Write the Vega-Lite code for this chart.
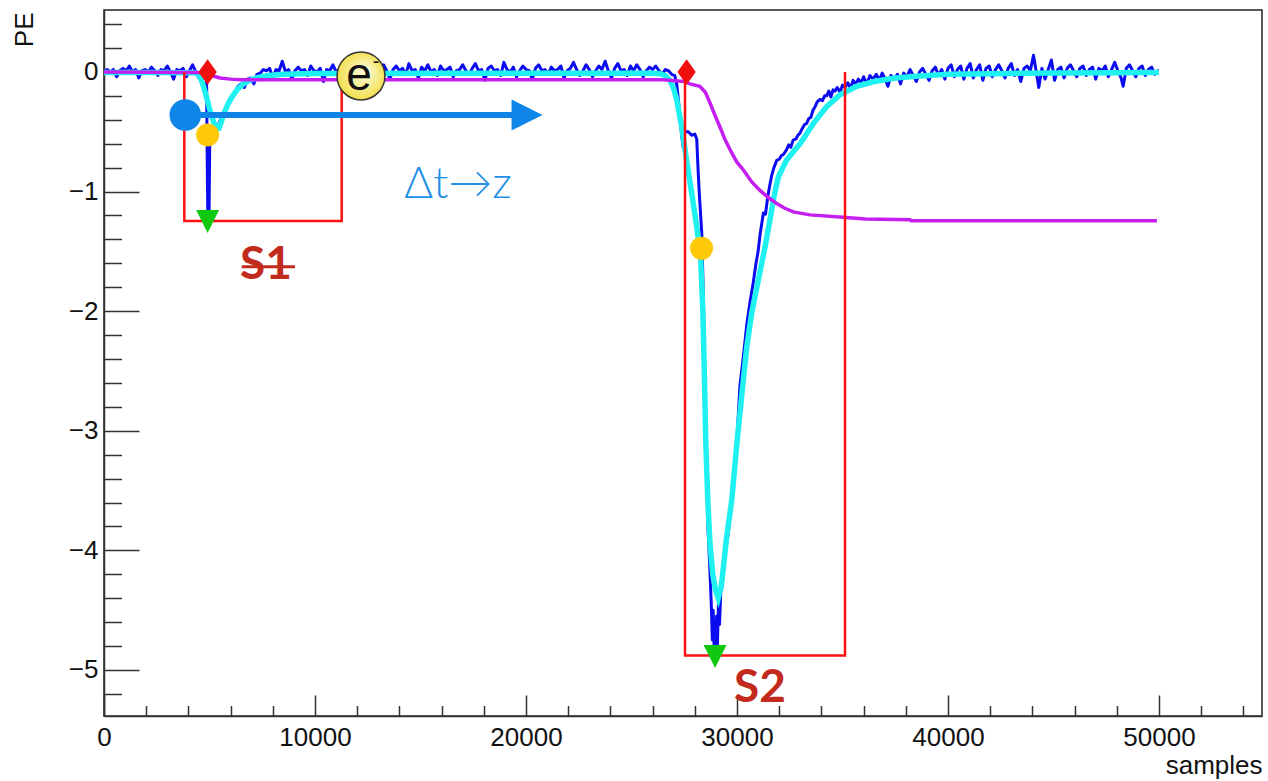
{
"$schema":"https://vega.github.io/schema/vega-lite/v6.json",
"width":1158,"height":706,
"autosize":{"type":"none"},
"padding":{"left":104,"top":10,"right":6,"bottom":65},
"background":"#ffffff",
"config":{"view":{"stroke":"#222222","strokeWidth":1.5},"font":"Liberation Sans"},
"datasets":{
"blue":[
{"x":0,"y":0.01},{"x":150,"y":0.02},{"x":300,"y":0.0},{"x":450,"y":0.02},{"x":600,"y":-0.04},{"x":750,"y":0.01},{"x":900,"y":0.03},{"x":1050,"y":0.01},{"x":1200,"y":0.05},{"x":1350,"y":0.0},{"x":1500,"y":0.02},{"x":1650,"y":-0.05},{"x":1800,"y":0.01},{"x":1950,"y":0.02},{"x":2100,"y":0.0},{"x":2250,"y":0.04},{"x":2400,"y":0.01},{"x":2550,"y":-0.03},{"x":2700,"y":0.02},{"x":2850,"y":0.01},{"x":3000,"y":0.05},{"x":3150,"y":0.0},{"x":3300,"y":-0.06},{"x":3450,"y":0.02},{"x":3600,"y":0.01},{"x":3750,"y":0.03},{"x":3900,"y":-0.04},{"x":4050,"y":0.01},{"x":4200,"y":0.06},{"x":4350,"y":0.0},{"x":4500,"y":-0.05},{"x":4650,"y":0.02},
{"x":4750,"y":0.01},{"x":4860,"y":-0.05},{"x":4890,"y":-0.7},{"x":4920,"y":-1.2},{"x":4950,"y":-0.9},{"x":4980,"y":-1.15},{"x":5010,"y":-0.62},{"x":5150,"y":-0.52},{"x":5300,"y":-0.47},{"x":5450,"y":-0.43},{"x":5600,"y":-0.36},{"x":5750,"y":-0.31},{"x":5900,"y":-0.25},{"x":6050,"y":-0.2},{"x":6200,"y":-0.17},{"x":6350,"y":-0.12},{"x":6500,"y":-0.1},{"x":6650,"y":-0.13},{"x":6800,"y":-0.06},{"x":6950,"y":-0.05},{"x":7100,"y":-0.1},{"x":7250,"y":-0.02},{"x":7400,"y":-0.01},{"x":7550,"y":0.02},
{"x":7700,"y":0.01},{"x":7850,"y":0.03},{"x":8000,"y":-0.05},{"x":8150,"y":0.02},{"x":8300,"y":0.01},{"x":8450,"y":0.09},{"x":8600,"y":0.0},{"x":8750,"y":0.02},{"x":8900,"y":-0.06},{"x":9050,"y":0.01},{"x":9200,"y":0.04},{"x":9350,"y":0.01},{"x":9500,"y":0.02},{"x":9650,"y":-0.03},{"x":9800,"y":0.05},{"x":9950,"y":0.01},{"x":10100,"y":0.0},{"x":10250,"y":0.03},{"x":10400,"y":-0.08},{"x":10550,"y":0.02},{"x":10700,"y":0.01},{"x":10850,"y":0.06},{"x":11000,"y":0.0},{"x":11150,"y":0.02},{"x":11300,"y":-0.04},{"x":11450,"y":0.01},{"x":11600,"y":0.05},{"x":11750,"y":0.02},{"x":11900,"y":0.0},{"x":12050,"y":0.04},{"x":12200,"y":-0.05},{"x":12350,"y":0.01},{"x":12500,"y":0.07},{"x":12650,"y":0.02},{"x":12800,"y":0.0},{"x":12950,"y":-0.03},{"x":13100,"y":0.03},{"x":13250,"y":0.06},{"x":13400,"y":0.01},{"x":13550,"y":-0.06},{"x":13700,"y":0.02},{"x":13850,"y":0.05},{"x":14000,"y":0.01},{"x":14150,"y":0.03},{"x":14300,"y":-0.02},{"x":14450,"y":0.07},{"x":14600,"y":0.01},{"x":14750,"y":0.02},{"x":14900,"y":-0.05},{"x":15050,"y":0.04},{"x":15200,"y":0.01},{"x":15350,"y":0.06},{"x":15500,"y":0.0},{"x":15650,"y":0.02},{"x":15800,"y":-0.03},{"x":15950,"y":0.05},{"x":16100,"y":0.01},{"x":16250,"y":0.02},{"x":16400,"y":0.04},{"x":16550,"y":-0.04},{"x":16700,"y":0.01},{"x":16850,"y":0.02},{"x":17000,"y":0.06},{"x":17150,"y":0.01},{"x":17300,"y":-0.02},{"x":17450,"y":0.03},{"x":17600,"y":0.07},{"x":17750,"y":0.01},{"x":17900,"y":0.02},{"x":18050,"y":-0.07},{"x":18200,"y":0.03},{"x":18350,"y":0.05},{"x":18500,"y":0.01},{"x":18650,"y":0.02},{"x":18800,"y":-0.03},{"x":18950,"y":0.08},{"x":19100,"y":0.02},{"x":19250,"y":0.0},{"x":19400,"y":0.04},{"x":19550,"y":-0.04},{"x":19700,"y":0.01},{"x":19850,"y":0.05},{"x":20000,"y":0.02},{"x":20150,"y":0.01},{"x":20300,"y":-0.06},{"x":20450,"y":0.03},{"x":20600,"y":0.06},{"x":20750,"y":0.01},{"x":20900,"y":0.02},{"x":21050,"y":-0.02},{"x":21200,"y":0.04},{"x":21350,"y":0.01},{"x":21500,"y":0.02},{"x":21650,"y":0.05},{"x":21800,"y":-0.05},{"x":21950,"y":0.01},{"x":22100,"y":0.03},{"x":22250,"y":0.08},{"x":22400,"y":0.02},{"x":22550,"y":-0.03},{"x":22700,"y":0.01},{"x":22850,"y":0.06},{"x":23000,"y":0.02},{"x":23150,"y":-0.04},{"x":23300,"y":0.01},{"x":23450,"y":0.05},{"x":23600,"y":0.02},{"x":23750,"y":0.09},{"x":23900,"y":0.01},{"x":24050,"y":-0.05},{"x":24200,"y":0.03},{"x":24350,"y":0.07},{"x":24500,"y":0.01},{"x":24650,"y":0.02},{"x":24800,"y":-0.03},{"x":24950,"y":0.05},{"x":25100,"y":0.01},{"x":25250,"y":0.06},{"x":25400,"y":0.02},{"x":25550,"y":-0.04},{"x":25700,"y":0.01},{"x":25850,"y":0.04},{"x":26000,"y":0.02},{"x":26150,"y":0.05},{"x":26300,"y":0.01},{"x":26450,"y":-0.02},{"x":26600,"y":0.02},
{"x":26750,"y":0.01},{"x":26900,"y":-0.02},{"x":27050,"y":-0.03},{"x":27140,"y":-0.1},{"x":27260,"y":-0.3},{"x":27380,"y":-0.54},{"x":27460,"y":-0.64},{"x":27520,"y":-0.5},{"x":27690,"y":-0.5},{"x":27850,"y":-0.53},{"x":28000,"y":-0.52},{"x":28090,"y":-0.56},{"x":28150,"y":-0.8},{"x":28210,"y":-1.01},{"x":28330,"y":-1.35},{"x":28400,"y":-1.85},{"x":28480,"y":-2.6},{"x":28550,"y":-3.3},{"x":28620,"y":-3.8},{"x":28700,"y":-4.1},{"x":28780,"y":-4.45},{"x":28830,"y":-4.75},{"x":28870,"y":-4.5},{"x":28920,"y":-4.85},{"x":28960,"y":-4.6},{"x":28990,"y":-4.88},{"x":29030,"y":-4.55},{"x":29070,"y":-4.8},{"x":29120,"y":-4.45},{"x":29170,"y":-4.62},{"x":29230,"y":-4.35},{"x":29300,"y":-4.3},{"x":29420,"y":-4.05},{"x":29590,"y":-3.85},{"x":29750,"y":-3.55},{"x":29870,"y":-3.35},{"x":29980,"y":-3.12},{"x":30140,"y":-2.62},{"x":30300,"y":-2.38},{"x":30470,"y":-2.1},{"x":30620,"y":-1.92},{"x":30770,"y":-1.76},{"x":30900,"y":-1.6},{"x":31000,"y":-1.5},{"x":31100,"y":-1.35},{"x":31250,"y":-1.18},{"x":31350,"y":-1.19},{"x":31450,"y":-1.05},{"x":31550,"y":-0.95},{"x":31650,"y":-0.86},{"x":31750,"y":-0.8},{"x":31880,"y":-0.74},{"x":32000,"y":-0.73},{"x":32100,"y":-0.7},{"x":32200,"y":-0.69},{"x":32350,"y":-0.65},{"x":32450,"y":-0.61},{"x":32550,"y":-0.63},{"x":32660,"y":-0.57},{"x":32800,"y":-0.56},{"x":32880,"y":-0.53},{"x":32990,"y":-0.51},{"x":33100,"y":-0.47},{"x":33200,"y":-0.44},{"x":33300,"y":-0.43},{"x":33400,"y":-0.39},{"x":33500,"y":-0.38},{"x":33600,"y":-0.32},{"x":33700,"y":-0.29},{"x":33800,"y":-0.25},{"x":33930,"y":-0.23},{"x":34050,"y":-0.24},{"x":34150,"y":-0.2},{"x":34250,"y":-0.2},{"x":34350,"y":-0.16},{"x":34450,"y":-0.21},{"x":34550,"y":-0.15},{"x":34650,"y":-0.16},{"x":34750,"y":-0.13},{"x":34880,"y":-0.17},{"x":35000,"y":-0.11},{"x":35120,"y":-0.13},{"x":35250,"y":-0.09},{"x":35380,"y":-0.14},{"x":35500,"y":-0.07},{"x":35620,"y":-0.1},{"x":35750,"y":-0.06},{"x":35880,"y":-0.09},{"x":36000,"y":-0.04},{"x":36150,"y":-0.1},{"x":36300,"y":-0.03},{"x":36450,"y":-0.06},{"x":36600,"y":-0.02},{"x":36750,"y":-0.07},{"x":36880,"y":-0.01},
{"x":37000,"y":-0.05},{"x":37150,"y":-0.12},{"x":37300,"y":-0.03},{"x":37450,"y":-0.06},{"x":37600,"y":-0.02},{"x":37750,"y":-0.1},{"x":37900,"y":-0.01},{"x":38050,"y":-0.04},{"x":38200,"y":0.02},{"x":38350,"y":-0.03},{"x":38500,"y":-0.08},{"x":38650,"y":0.0},{"x":38800,"y":0.03},{"x":38950,"y":-0.02},{"x":39100,"y":-0.07},{"x":39250,"y":0.01},{"x":39400,"y":0.04},{"x":39550,"y":-0.03},{"x":39700,"y":0.02},{"x":39850,"y":-0.06},{"x":40000,"y":0.03},{"x":40150,"y":0.06},{"x":40300,"y":-0.04},{"x":40450,"y":0.02},{"x":40600,"y":0.05},{"x":40750,"y":-0.06},{"x":40900,"y":0.03},{"x":41050,"y":0.07},{"x":41200,"y":-0.05},{"x":41350,"y":0.02},{"x":41500,"y":0.06},{"x":41650,"y":-0.07},{"x":41800,"y":0.03},{"x":41950,"y":0.05},{"x":42100,"y":-0.04},{"x":42250,"y":0.02},{"x":42400,"y":0.06},{"x":42550,"y":0.01},{"x":42700,"y":-0.05},{"x":42850,"y":0.03},{"x":43000,"y":0.07},{"x":43150,"y":-0.03},{"x":43300,"y":0.02},{"x":43450,"y":-0.08},{"x":43600,"y":0.03},{"x":43750,"y":0.05},{"x":43900,"y":0.01},{"x":44050,"y":0.14},{"x":44200,"y":-0.02},{"x":44300,"y":-0.13},{"x":44450,"y":0.03},{"x":44600,"y":-0.06},{"x":44750,"y":0.02},{"x":44900,"y":0.1},{"x":45050,"y":-0.07},{"x":45200,"y":0.02},{"x":45350,"y":0.04},{"x":45500,"y":-0.05},{"x":45650,"y":0.03},{"x":45800,"y":0.06},{"x":45950,"y":0.01},{"x":46100,"y":-0.04},{"x":46250,"y":0.03},{"x":46400,"y":0.05},{"x":46550,"y":-0.03},{"x":46700,"y":0.02},{"x":46850,"y":0.04},{"x":47000,"y":-0.06},{"x":47150,"y":0.03},{"x":47300,"y":0.01},{"x":47450,"y":0.05},{"x":47600,"y":-0.04},{"x":47750,"y":0.02},{"x":47900,"y":0.08},{"x":48050,"y":0.01},{"x":48200,"y":-0.05},{"x":48300,"y":-0.12},{"x":48450,"y":0.03},{"x":48600,"y":0.06},{"x":48750,"y":0.01},{"x":48900,"y":-0.04},{"x":49050,"y":0.03},{"x":49200,"y":0.05},{"x":49350,"y":-0.03},{"x":49500,"y":0.02},{"x":49650,"y":0.04},{"x":49800,"y":-0.02},{"x":49950,"y":0.01},{"x":50000,"y":0.01}
],
"cyan":[
{"x":0,"y":-0.005},{"x":2000,"y":-0.005},{"x":4300,"y":-0.006},{"x":4450,"y":-0.02},{"x":4600,"y":-0.06},{"x":4750,"y":-0.14},{"x":4900,"y":-0.24},{"x":5050,"y":-0.34},{"x":5200,"y":-0.42},{"x":5350,"y":-0.47},{"x":5450,"y":-0.47},{"x":5550,"y":-0.42},{"x":5700,"y":-0.34},{"x":5900,"y":-0.26},{"x":6100,"y":-0.2},{"x":6350,"y":-0.14},{"x":6600,"y":-0.1},{"x":6900,"y":-0.07},{"x":7300,"y":-0.045},{"x":7800,"y":-0.03},{"x":8500,"y":-0.02},{"x":10000,"y":-0.012},{"x":26000,"y":-0.01},{"x":26350,"y":-0.015},{"x":26600,"y":-0.03},{"x":26820,"y":-0.07},{"x":27000,"y":-0.14},{"x":27140,"y":-0.23},{"x":27380,"y":-0.46},{"x":27610,"y":-0.74},{"x":27850,"y":-1.01},{"x":28090,"y":-1.29},{"x":28280,"y":-1.57},{"x":28380,"y":-2.0},{"x":28450,"y":-2.5},{"x":28520,"y":-3.1},{"x":28620,"y":-3.6},{"x":28720,"y":-3.95},{"x":28850,"y":-4.2},{"x":28980,"y":-4.33},{"x":29110,"y":-4.4},{"x":29250,"y":-4.3},{"x":29350,"y":-4.15},{"x":29500,"y":-3.9},{"x":29750,"y":-3.58},{"x":29980,"y":-3.13},{"x":30220,"y":-2.71},{"x":30460,"y":-2.3},{"x":30690,"y":-2.02},{"x":31010,"y":-1.74},{"x":31330,"y":-1.46},{"x":31560,"y":-1.24},{"x":31720,"y":-1.07},{"x":31960,"y":-0.875},{"x":32350,"y":-0.736},{"x":32990,"y":-0.6},{"x":33620,"y":-0.43},{"x":34250,"y":-0.29},{"x":34880,"y":-0.19},{"x":35670,"y":-0.12},{"x":36500,"y":-0.08},{"x":37500,"y":-0.05},{"x":38500,"y":-0.035},{"x":40000,"y":-0.02},{"x":43000,"y":-0.012},{"x":50000,"y":-0.005}
],
"mag":[
{"x":0,"y":0.0},{"x":4500,"y":-0.005},{"x":4800,"y":-0.01},{"x":5100,"y":-0.03},{"x":5500,"y":-0.05},{"x":6000,"y":-0.06},{"x":6500,"y":-0.065},{"x":26500,"y":-0.065},{"x":27500,"y":-0.08},{"x":27770,"y":-0.1},{"x":28240,"y":-0.12},{"x":28500,"y":-0.17},{"x":28720,"y":-0.26},{"x":28950,"y":-0.36},{"x":29190,"y":-0.46},{"x":29420,"y":-0.56},{"x":29670,"y":-0.65},{"x":29980,"y":-0.75},{"x":30300,"y":-0.82},{"x":30700,"y":-0.92},{"x":31090,"y":-0.99},{"x":31480,"y":-1.05},{"x":31880,"y":-1.1},{"x":32270,"y":-1.14},{"x":32670,"y":-1.17},{"x":33460,"y":-1.195},{"x":35040,"y":-1.215},{"x":36090,"y":-1.23},{"x":38200,"y":-1.235},{"x":38250,"y":-1.245},{"x":49900,"y":-1.245}
],
"boxes":[
{"box":"S1","o":1,"x":3806,"y":0},{"box":"S1","o":2,"x":3806,"y":-1.246},{"box":"S1","o":3,"x":11265,"y":-1.246},{"box":"S1","o":4,"x":11265,"y":0},
{"box":"S2","o":1,"x":27535,"y":0},{"box":"S2","o":2,"x":27535,"y":-4.88},{"box":"S2","o":3,"x":35118,"y":-4.88},{"box":"S2","o":4,"x":35118,"y":0}
],
"arrow":[{"x":3853,"x2":19450,"y":-0.36}],
"arrowhead":[{"x":20050,"y":-0.36}],
"origin":[{"x":3853,"y":-0.36}],
"diamonds":[{"x":4910,"y":0.0},{"x":27610,"y":0.0}],
"dots":[{"x":4910,"y":-0.527},{"x":28320,"y":-1.474}],
"tris":[{"x":4910,"y":-1.25},{"x":28960,"y":-4.887}],
"electron":[{"x":12180,"y":-0.033,"t":"e","s":"-"}],
"dtz":[{"x":16780,"y":-0.945,"t":"Δt→z"}],
"slabels":[{"x":7680,"y":-1.614,"t":"S1"},{"x":31090,"y":-5.15,"t":"S2"}],
"strike":[{"x":6530,"x2":9050,"y":-1.628}]
},
"encoding":{
"x":{"field":"x","type":"quantitative","scale":{"domain":[0,54880],"nice":false,"zero":false},"axis":null},
"y":{"field":"y","type":"quantitative","scale":{"domain":[-5.385,0.518],"nice":false,"zero":false},"axis":null}
},
"layer":[
{"data":{"name":"blue"},"mark":{"type":"line","color":"#0b0bef","strokeWidth":3,"strokeJoin":"round","clip":true},
"encoding":{
"x":{"field":"x","type":"quantitative","scale":{"domain":[0,54880],"nice":false,"zero":false},
"axis":{"orient":"bottom","values":[0,10000,20000,30000,40000,50000],"format":"d","tickSize":-21,"tickWidth":1.5,"tickColor":"#333333","domainColor":"#333333","domainWidth":1.5,"labelFont":"Liberation Sans","labelFontSize":26,"labelColor":"#111111","labelPadding":29,"labelFlush":false,"labelOverlap":false,"labelBound":false,"grid":false,"title":"samples","titleFont":"Liberation Sans","titleFontSize":26,"titleFontWeight":"normal","titleColor":"#111111","titleX":1158,"titleY":49,"titleAlign":"right","titleBaseline":"middle","titleAnchor":"end"}},
"y":{"field":"y","type":"quantitative","scale":{"domain":[-5.385,0.518],"nice":false,"zero":false},
"axis":{"orient":"left","values":[-5,-4,-3,-2,-1,0],"tickSize":-35,"tickWidth":1.5,"tickColor":"#333333","domainColor":"#333333","domainWidth":1.5,"labelFont":"Liberation Sans","labelFontSize":26,"labelColor":"#111111","labelPadding":41,"labelOverlap":false,"labelBound":false,"labelFlush":false,"grid":false,"title":"PE","titleFont":"Liberation Sans","titleFontSize":26,"titleFontWeight":"normal","titleColor":"#111111","titleX":-80,"titleY":2,"titleAngle":-90,"titleAlign":"right","titleBaseline":"middle","titleAnchor":"end"}}
}},
{"data":{"name":"cyan"},"mark":{"type":"line","color":"#1ff0f0","strokeWidth":5.5,"clip":true},
"encoding":{
"x":{"field":"x","type":"quantitative","scale":{"domain":[0,54880],"nice":false,"zero":false},
"axis":{"orient":"bottom","values":[2000,4000,6000,8000,12000,14000,16000,18000,22000,24000,26000,28000,32000,34000,36000,38000,42000,44000,46000,48000,52000,54000],"tickSize":-10.5,"tickWidth":1.5,"tickColor":"#333333","labels":false,"domain":false,"grid":false,"title":null}},
"y":{"field":"y","type":"quantitative","scale":{"domain":[-5.385,0.518],"nice":false,"zero":false},
"axis":{"orient":"left","values":[-5.2,-4.8,-4.6,-4.4,-4.2,-3.8,-3.6,-3.4,-3.2,-2.8,-2.6,-2.4,-2.2,-1.8,-1.6,-1.4,-1.2,-0.8,-0.6,-0.4,-0.2,0.2,0.4],"tickSize":-17.5,"tickWidth":1.5,"tickColor":"#333333","labels":false,"domain":false,"grid":false,"title":null}}
}},
{"data":{"name":"mag"},"mark":{"type":"line","color":"#c41ff0","strokeWidth":3.5,"clip":true},"encoding":{}},
{"data":{"name":"boxes"},"mark":{"type":"line","color":"#ff1010","strokeWidth":2.5,"clip":true},
"encoding":{"detail":{"field":"box","type":"nominal"},"order":{"field":"o","type":"quantitative"}}},
{"data":{"name":"arrow"},"mark":{"type":"rule","color":"#0f85e8","strokeWidth":6},
"encoding":{"x2":{"field":"x2"}}},
{"data":{"name":"arrowhead"},"mark":{"type":"point","shape":"M-1,-1L1,0L-1,1Z","filled":true,"color":"#0f85e8","opacity":1,"size":961,"strokeWidth":0},"encoding":{}},
{"data":{"name":"origin"},"mark":{"type":"point","shape":"circle","filled":true,"color":"#0f85e8","opacity":1,"size":1000,"strokeWidth":0},"encoding":{}},
{"data":{"name":"diamonds"},"mark":{"type":"point","shape":"M0,-1L0.72,0L0,1L-0.72,0Z","filled":true,"color":"#f01010","opacity":1,"size":650,"strokeWidth":0},"encoding":{}},
{"data":{"name":"dots"},"mark":{"type":"point","shape":"circle","filled":true,"color":"#ffc808","opacity":1,"size":529,"strokeWidth":0},"encoding":{}},
{"data":{"name":"tris"},"mark":{"type":"point","shape":"M-1,-1L1,-1L0,1Z","filled":true,"color":"#10c810","opacity":1,"size":529,"strokeWidth":0},"encoding":{}},
{"data":{"name":"electron"},"mark":{"type":"point","shape":"circle","filled":true,"fill":{"gradient":"radial","x1":0.6,"y1":0.4,"r1":0,"x2":0.5,"y2":0.5,"r2":0.55,"stops":[{"offset":0,"color":"#ffffe6"},{"offset":1,"color":"#f0dc40"}]},"stroke":"#333333","strokeWidth":1.5,"opacity":1,"size":2300},"encoding":{}},
{"data":{"name":"electron"},"mark":{"type":"text","fontSize":46,"font":"Liberation Sans","color":"#111111","align":"center","baseline":"middle","dx":-2,"dy":0},"encoding":{"text":{"field":"t"}}},
{"data":{"name":"electron"},"mark":{"type":"text","fontSize":20,"font":"Liberation Sans","color":"#111111","align":"center","baseline":"middle","dx":15,"dy":-14},"encoding":{"text":{"field":"s"}}},
{"data":{"name":"dtz"},"mark":{"type":"text","fontSize":44,"font":"Lato","fontWeight":300,"color":"#1e8fe6","align":"center","baseline":"middle"},"encoding":{"text":{"field":"t"}}},
{"data":{"name":"slabels"},"mark":{"type":"text","fontSize":46,"font":"Lato","fontWeight":"bold","color":"#c22a1e","align":"center","baseline":"middle"},"encoding":{"text":{"field":"t"}}},
{"data":{"name":"strike"},"mark":{"type":"rule","color":"#c22a1e","strokeWidth":3},"encoding":{"x2":{"field":"x2"}}}
],
"resolve":{"axis":{"x":"independent","y":"independent"}}
}
